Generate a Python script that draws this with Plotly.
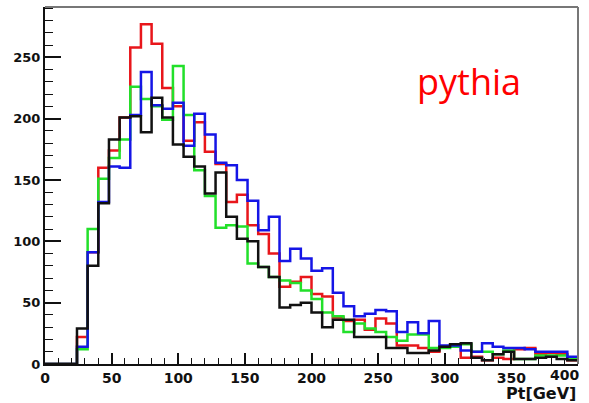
import numpy as np
import plotly.graph_objects as go

# bin edges (GeV): bins of width 8 from 24 to 400
bin_edges = list(range(24, 401, 8))

red = [22, 91, 160, 174, 201, 258, 277, 261, 225, 210, 182, 197, 173, 163, 132, 138,
       113, 106, 90, 63, 67, 71, 57, 55, 38, 35, 36, 28, 37, 33, 15, 15, 13, 10, 14, 15,
       5, 6, 3, 5, 4, 12, 13, 8, 9, 8, 3]
green = [12, 110, 151, 168, 183, 226, 216, 210, 199, 243, 203, 158, 137, 111, 113, 112,
         82, 79, 71, 68, 66, 60, 53, 42, 39, 26, 33, 29, 26, 22, 19, 24, 24, 13, 13, 14,
         16, 10, 10, 8, 11, 4, 4, 7, 7, 7, 5]
blue = [14, 91, 132, 161, 160, 203, 238, 211, 208, 213, 178, 204, 187, 164, 162, 150,
        133, 109, 120, 84, 94, 86, 76, 78, 58, 47, 39, 41, 44, 43, 26, 34, 25, 35, 15, 15,
        11, 10, 17, 14, 13, 13, 12, 10, 10, 10, 6]
black = [29, 80, 131, 183, 201, 202, 189, 217, 201, 179, 169, 161, 139, 156, 120, 102,
         100, 79, 71, 46, 48, 50, 42, 30, 36, 36, 22, 22, 22, 13, 13, 9, 9, 11, 14, 16,
         17, 5, 3, 8, 10, 4, 4, 5, 6, 4, 3]

series = [("red", red, "#e8161b"), ("green", green, "#22e02a"),
          ("blue", blue, "#1515e6"), ("black", black, "#111111")]

x_ticks = [0, 50, 100, 150, 200, 250, 300, 350, 400]
y_ticks = [0, 50, 100, 150, 200, 250]

fig = go.Figure()
for name, vals, col in series:
    xs = [0] + bin_edges
    ys = [0] + vals + [vals[-1]]
    fig.add_trace(go.Scatter(x=xs, y=ys, mode="lines", line=dict(color=col, width=2.5, shape="hv"),
                             name=name, showlegend=False, hoverinfo="skip"))

tickfont = dict(family="DejaVu Sans", size=14, color="#111")
# last x label (400) sits at the edge of the page: drawn as an annotation, shifted left
x_labels = [f"<b>{v}</b>" if v != x_ticks[-1] else "" for v in x_ticks]
fig.update_layout(
    width=589, height=403,
    margin=dict(l=45, r=11, t=7, b=39),
    paper_bgcolor="white", plot_bgcolor="white",
    xaxis=dict(range=[0, 400], tickvals=x_ticks, ticktext=x_labels,
               ticks="inside", ticklen=11, tickwidth=1.5, tickcolor="#111",
               minor=dict(dtick=10, ticks="inside", ticklen=6, tickwidth=1.2, tickcolor="#111"),
               showline=True, linecolor="#111", linewidth=2, showgrid=False, zeroline=False,
               tickfont=tickfont),
    yaxis=dict(range=[0, 291], tickvals=y_ticks, ticktext=[f"<b>{v}</b>" for v in y_ticks],
               ticks="inside", ticklen=16, tickwidth=1.5, tickcolor="#111",
               minor=dict(dtick=10, ticks="inside", ticklen=8, tickwidth=1.2, tickcolor="#111"),
               showline=True, linecolor="#111", linewidth=2, showgrid=False, zeroline=False,
               tickfont=dict(family="DejaVu Sans", size=13, color="#111")),
)
# gray top/right frame
fig.add_shape(type="line", xref="paper", yref="paper", x0=0, x1=1, y0=1, y1=1,
              line=dict(color="#777", width=2))
fig.add_shape(type="line", xref="paper", yref="paper", x0=1, x1=1, y0=0, y1=1,
              line=dict(color="#777", width=2))

fig.add_annotation(text=f"<b>{x_ticks[-1]}</b>", xref="x", yref="paper", x=x_ticks[-1], y=0,
                   xanchor="right", yanchor="top", xshift=3, yshift=-1, showarrow=False,
                   font=tickfont)
fig.add_annotation(text="<b>Pt[GeV]</b>", xref="paper", yref="paper", x=1.0, y=-0.05,
                   xanchor="right", yanchor="top", showarrow=False,
                   font=dict(family="DejaVu Sans", size=16, color="#111"))
fig.add_annotation(text="pythia", xref="paper", yref="paper", x=0.7955, y=0.79,
                   xanchor="center", yanchor="middle", showarrow=False,
                   font=dict(family="Open Sans", size=36, color="#ff0000"))

fig.write_html("out.html")
